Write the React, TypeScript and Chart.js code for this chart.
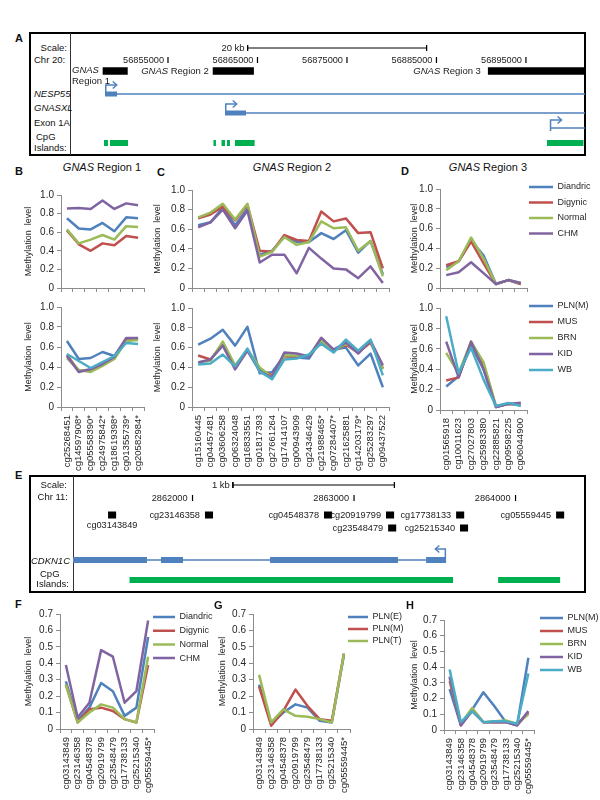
import React, { useEffect, useRef } from 'react';
import { Chart, registerables } from 'chart.js';

Chart.register(...registerables);

const FAMILY = '"Liberation Sans", Arial, Helvetica, sans-serif';
Chart.defaults.font.family = FAMILY;

/* ====================== DATA ====================== */
const GROUPS = ['Diandric', 'Digynic', 'Normal', 'CHM'];
const TISSUES = ['PLN(M)', 'MUS', 'BRN', 'KID', 'WB'];
const TRIMESTERS = ['PLN(E)', 'PLN(M)', 'PLN(T)'];

// GNAS Region 1
const B_PROBES = ['cg25268451', 'cg14597908*', 'cg05558390*', 'cg24975842*', 'cg18619398*', 'cg01355739*', 'cg20582984*'];
const B_DIANDRIC = [0.75, 0.64, 0.63, 0.70, 0.61, 0.76, 0.75];
const B_DIGYNIC = [0.62, 0.47, 0.40, 0.48, 0.46, 0.56, 0.54];
const B_NORMAL = [0.63, 0.48, 0.52, 0.57, 0.52, 0.665, 0.655];
const B_CHM = [0.855, 0.86, 0.85, 0.94, 0.85, 0.91, 0.89];
const B_PLN_M = [0.66, 0.48, 0.49, 0.55, 0.51, 0.68, 0.68];
const B_MUS = [0.52, 0.36, 0.37, 0.43, 0.50, 0.68, 0.68];
const B_BRN = [0.49, 0.37, 0.35, 0.41, 0.48, 0.66, 0.67];
const B_KID = [0.51, 0.35, 0.38, 0.43, 0.50, 0.69, 0.69];
const B_WB = [0.53, 0.46, 0.39, 0.45, 0.51, 0.64, 0.63];

// GNAS Region 2
const C_PROBES = ['cg15160445', 'cg04457481', 'cg03606258', 'cg06324048', 'cg16833551', 'cg01817393', 'cg27661264', 'cg17414107', 'cg00943909', 'cg24346429', 'cg21988465*', 'cg07284407*', 'cg21625881', 'cg14203179*', 'cg25283297', 'cg09437522'];
const C_DIANDRIC = [0.64, 0.67, 0.82, 0.64, 0.81, 0.34, 0.38, 0.52, 0.47, 0.47, 0.56, 0.50, 0.59, 0.36, 0.48, 0.14];
const C_DIGYNIC = [0.71, 0.75, 0.83, 0.69, 0.85, 0.38, 0.37, 0.54, 0.49, 0.48, 0.78, 0.68, 0.71, 0.56, 0.57, 0.20];
const C_NORMAL = [0.72, 0.77, 0.86, 0.70, 0.86, 0.32, 0.37, 0.52, 0.44, 0.47, 0.68, 0.61, 0.62, 0.38, 0.48, 0.12];
const C_CHM = [0.62, 0.67, 0.80, 0.61, 0.79, 0.26, 0.34, 0.34, 0.15, 0.41, 0.30, 0.20, 0.19, 0.10, 0.22, 0.05];
const C_PLN_M = [0.63, 0.69, 0.78, 0.62, 0.81, 0.34, 0.35, 0.52, 0.50, 0.49, 0.68, 0.58, 0.60, 0.42, 0.54, 0.20];
const C_MUS = [0.52, 0.48, 0.63, 0.40, 0.57, 0.38, 0.32, 0.51, 0.51, 0.52, 0.66, 0.57, 0.63, 0.55, 0.65, 0.39];
const C_BRN = [0.45, 0.47, 0.66, 0.42, 0.58, 0.40, 0.30, 0.52, 0.52, 0.52, 0.67, 0.57, 0.64, 0.56, 0.67, 0.38];
const C_KID = [0.45, 0.48, 0.62, 0.38, 0.57, 0.36, 0.30, 0.55, 0.54, 0.51, 0.70, 0.58, 0.65, 0.54, 0.67, 0.42];
const C_WB = [0.43, 0.44, 0.53, 0.41, 0.59, 0.36, 0.28, 0.48, 0.49, 0.53, 0.64, 0.55, 0.68, 0.57, 0.68, 0.32];

// GNAS Region 3
const D_PROBES = ['cg01565918', 'cg10011623', 'cg27027803', 'cg25983380', 'cg22885821', 'cg09598225', 'cg06044900'];
const D_DIANDRIC = [0.21, 0.27, 0.48, 0.33, 0.04, 0.08, 0.04];
const D_DIGYNIC = [0.23, 0.27, 0.47, 0.25, 0.04, 0.08, 0.04];
const D_NORMAL = [0.18, 0.27, 0.51, 0.30, 0.04, 0.08, 0.05];
const D_CHM = [0.13, 0.16, 0.26, 0.15, 0.04, 0.08, 0.05];
const D_PLN_M = [0.23, 0.33, 0.64, 0.40, 0.03, 0.06, 0.05];
const D_MUS = [0.29, 0.32, 0.66, 0.45, 0.03, 0.06, 0.06];
const D_BRN = [0.56, 0.36, 0.67, 0.47, 0.04, 0.06, 0.06];
const D_KID = [0.67, 0.32, 0.67, 0.40, 0.03, 0.06, 0.07];
const D_WB = [0.92, 0.36, 0.61, 0.30, 0.04, 0.07, 0.04];

// CDKN1C
const E_PROBES = ['cg03143849', 'cg23146358', 'cg04548378', 'cg20919799', 'cg23548479', 'cg17738133', 'cg25215340', 'cg05559445*'];
const F_DIANDRIC = [0.29, 0.05, 0.13, 0.28, 0.23, 0.08, 0.13, 0.56];
const F_DIGYNIC = [0.27, 0.04, 0.12, 0.13, 0.11, 0.06, 0.04, 0.39];
const F_NORMAL = [0.27, 0.04, 0.10, 0.15, 0.13, 0.06, 0.04, 0.44];
const F_CHM = [0.39, 0.07, 0.16, 0.48, 0.44, 0.16, 0.23, 0.66];
const G_PLN_E = [0.27, 0.03, 0.10, 0.15, 0.13, 0.05, 0.04, 0.45];
const G_PLN_M = [0.26, 0.02, 0.11, 0.24, 0.14, 0.06, 0.05, 0.46];
const G_PLN_T = [0.33, 0.04, 0.12, 0.08, 0.075, 0.06, 0.04, 0.46];
const H_PLN_M = [0.26, 0.03, 0.13, 0.24, 0.15, 0.05, 0.03, 0.46];
const H_MUS = [0.31, 0.03, 0.13, 0.05, 0.05, 0.05, 0.03, 0.11];
const H_BRN = [0.33, 0.04, 0.14, 0.05, 0.055, 0.06, 0.04, 0.10];
const H_KID = [0.34, 0.03, 0.12, 0.05, 0.05, 0.05, 0.03, 0.12];
const H_WB = [0.385, 0.05, 0.12, 0.05, 0.055, 0.055, 0.04, 0.36];

// Genome browser, chr20 (GNAS)
const A_RANGE = [56844050, 56901600];
const A_TICKS = [56855000, 56865000, 56875000, 56885000, 56895000];
const A_SCALEBAR = [56863900, 56883900];
const A_REGIONS = [[56847700, 56850500], [56860000, 56864600], [56890750, 56901600]];
const NESP55_EXON = [56847960, 56849300];
const GNASXL_EXON = [56861370, 56863720];
const EXON1A_START = 56897750;
const A_CPG = [[56847850, 56848300], [56848520, 56850530], [56860080, 56860360], [56860980, 56861370], [56861590, 56861930], [56862490, 56864680], [56897350, 56901430]];

// Genome browser, chr11 (CDKN1C)
const E_RANGE = [2861260, 2864430];
const E_TICKS = [2862000, 2863000, 2864000];
const E_SCALEBAR = [2862250, 2863250];
const E_TRACK_PROBES = ['cg03143849', 'cg23146358', 'cg04548378', 'cg20919799', 'cg23548479', 'cg17738133', 'cg25215340', 'cg05559445'];
const E_PROBE_POS = [2861477, 2862077, 2862814, 2863198, 2863211, 2863632, 2863656, 2864251];
const PROBE_LEN = 50;
const CDKN1C_EXONS = [[2861260, 2861718], [2861805, 2861941], [2862480, 2863272], [2863446, 2863570]];
const E_CPG = [[2861610, 2863613], [2863892, 2864276]];

/* ====================== STYLE ====================== */
const COLORS = ['#4F81BD', '#C0504D', '#9BBB59', '#8064A2', '#4BACC6'];
const AXIS = '#8C8C8C';
const INK = '#262626';
const GENE = '#4F81BD';
const CPG = '#00B050';
Chart.defaults.color = INK;

type LegendPos = { x: number; y: number; boxW: number; spacing: number };
type LineProps = {
  labels: string[]; names: string[]; values: number[][];
  yMax: number; yStep: number; showX: boolean;
  plotLeft: number; plotRight: number; plotTop: number; plotBottom: number;
  titleX: number; xH: number; legend?: LegendPos;
};

function LinePanel(p: LineProps) {
  const ref = useRef<HTMLCanvasElement>(null);
  const LEG_FS = 9;
  const TITLE_FS = 9;
  const canvasLeft = Math.round(p.titleX - (TITLE_FS * 1.2) / 2);
  const canvasTop = Math.round(p.plotTop - 8);
  const padTop = p.plotTop - canvasTop;
  const lp = p.legend ? p.legend.spacing - LEG_FS : 0;
  let legendW = 0;
  if (p.legend) {
    const c = document.createElement('canvas').getContext('2d')!;
    c.font = `normal ${LEG_FS}px ${FAMILY}`;
    const tw = Math.max(...p.names.map((n) => c.measureText(n).width));
    legendW = lp + p.legend.boxW + LEG_FS / 2 + tw + 10;
  }
  const padRight = p.legend ? 6 : 14;
  const width = Math.ceil(p.plotRight - canvasLeft + legendW + padRight);
  const height = Math.ceil(p.plotBottom - canvasTop + p.xH);
  const yW = p.plotLeft - canvasLeft;
  const targetRight = p.plotRight - canvasLeft;

  useEffect(() => {
    const legendPlugin = {
      id: 'legendPos',
      afterLayout(chart: any) {
        if (!p.legend || !chart.legend) return;
        const L = chart.legend;
        const w = L.width, h = L.height;
        const nx = p.legend.x - lp - canvasLeft;
        const ny = p.legend.y - LEG_FS / 2 - lp - canvasTop;
        L.left = nx; L.right = nx + w; L.top = ny; L.bottom = ny + h;
      },
    };
    const chart = new Chart(ref.current!, {
      type: 'line',
      data: {
        labels: p.labels,
        datasets: p.names.map((n, i) => ({
          label: n,
          data: p.values[i],
          borderColor: COLORS[i],
          backgroundColor: COLORS[i],
          borderWidth: 2.5,
          pointRadius: 0,
          tension: 0,
          fill: false,
          order: -i,
          borderJoinStyle: 'round' as const,
        })),
      },
      options: {
        responsive: false,
        animation: false,
        events: [],
        layout: { padding: { top: padTop, right: padRight, bottom: 0, left: 0 } },
        plugins: {
          legend: p.legend
            ? {
                display: true,
                position: 'right',
                align: 'start',
                maxWidth: 400,
                labels: {
                  usePointStyle: true,
                  pointStyle: 'line',
                  pointStyleWidth: p.legend.boxW,
                  padding: lp,
                  font: { size: LEG_FS },
                  color: INK,
                  sort: (a: any, b: any) => a.datasetIndex - b.datasetIndex,
                },
              }
            : { display: false },
          tooltip: { enabled: false },
        },
        scales: {
          x: {
            type: 'category',
            offset: true,
            grid: { display: true, drawOnChartArea: false, offset: true, tickLength: 4, color: AXIS },
            border: { display: true, color: AXIS, width: 1 },
            ticks: {
              display: p.showX, autoSkip: false, minRotation: 90, maxRotation: 90,
              font: { size: 9.5 }, color: INK, padding: 4,
            },
            afterFit: (s: any) => { s.height = p.xH; },
          },
          y: {
            type: 'linear',
            min: 0,
            max: p.yMax,
            grid: { display: true, drawOnChartArea: false, tickLength: 4, color: AXIS },
            border: { display: true, color: AXIS, width: 1 },
            ticks: { stepSize: p.yStep, font: { size: 10 }, color: INK, padding: 3 },
            title: { display: true, text: 'Methylation  level', font: { size: TITLE_FS }, color: INK, padding: { top: 0, bottom: 0 } },
            afterFit: (s: any) => { s.width = yW; },
          },
        },
      } as any,
      plugins: [legendPlugin],
    });
    for (let k = 0; k < 3; k++) {
      const diff = chart.chartArea.right - targetRight;
      if (Math.abs(diff) < 0.3) break;
      (chart.config.options as any).layout.padding.right += diff;
      chart.update();
    }
    return () => chart.destroy();
  }, []);

  return (
    <canvas
      ref={ref}
      width={width}
      height={height}
      style={{ position: 'absolute', left: canvasLeft, top: canvasTop, width, height }}
    />
  );
}

type Seg = { pts: number[][]; color: string; w: number };
type TText = { parts: { t: string; italic?: boolean }[]; x: number; y: number; align: 'left' | 'right' | 'center'; dx?: number; size?: number };

function TrackPanel(props: { left: number; top: number; width: number; height: number; range: number[]; segs: Seg[]; texts: TText[] }) {
  const ref = useRef<HTMLCanvasElement>(null);
  const { left, top, width, height, range, segs, texts } = props;
  useEffect(() => {
    const textPlugin = {
      id: 'trackText',
      afterDatasetsDraw(chart: any) {
        const ctx = chart.ctx;
        const xs = chart.scales.x, ys = chart.scales.y;
        ctx.save();
        ctx.fillStyle = '#1a1a1a';
        ctx.textBaseline = 'middle';
        ctx.textAlign = 'left';
        for (const it of texts) {
          const size = it.size || 9;
          const fontOf = (pt: any) => `${pt.italic ? 'italic ' : ''}${size}px ${FAMILY}`;
          let total = 0;
          for (const pt of it.parts) { ctx.font = fontOf(pt); total += ctx.measureText(pt.t).width; }
          let x = xs.getPixelForValue(it.x) + (it.dx || 0);
          if (it.align === 'right') x -= total;
          else if (it.align === 'center') x -= total / 2;
          const y = ys.getPixelForValue(it.y);
          for (const pt of it.parts) { ctx.font = fontOf(pt); ctx.fillText(pt.t, x, y); x += ctx.measureText(pt.t).width; }
        }
        ctx.restore();
      },
    };
    const chart = new Chart(ref.current!, {
      type: 'line',
      data: {
        datasets: segs.map((s) => ({
          data: s.pts.map(([x, y]) => ({ x, y })),
          borderColor: s.color,
          backgroundColor: s.color,
          borderWidth: s.w,
          pointRadius: 0,
          borderCapStyle: 'butt',
          borderJoinStyle: 'miter',
          tension: 0,
          fill: false,
          clip: false,
        })),
      },
      options: {
        responsive: false,
        animation: false,
        events: [],
        layout: { padding: 0 },
        plugins: { legend: { display: false }, tooltip: { enabled: false } },
        scales: {
          x: { type: 'linear', display: false, min: range[0], max: range[1] },
          y: { type: 'linear', display: false, min: top, max: top + height, reverse: true },
        },
      } as any,
      plugins: [textPlugin],
    });
    return () => chart.destroy();
  }, []);
  return <canvas ref={ref} width={width} height={height} style={{ position: 'absolute', left, top, width, height }} />;
}

function Txt(props: { x: number; y: number; children: any; align?: 'left' | 'right' | 'center'; size?: number; bold?: boolean; italic?: boolean }) {
  const { x, y, children, align = 'left', size = 9.5, bold = false, italic = false } = props;
  const st: any = {
    position: 'absolute', top: y - size * 0.6, lineHeight: `${size * 1.2}px`, fontSize: size,
    fontFamily: FAMILY, fontWeight: bold ? 'bold' : 'normal', fontStyle: italic ? 'italic' : 'normal',
    whiteSpace: 'nowrap', color: '#111',
  };
  if (align === 'left') st.left = x;
  else if (align === 'right') st.right = 600 - x;
  else { st.left = x; st.transform = 'translateX(-50%)'; }
  return <div style={st}>{children}</div>;
}

/* ====================== TRACK BUILDERS ====================== */
const A_BOX = { left: 70, top: 32, width: 515, height: 124 };
const E_BOX = { left: 73, top: 475, width: 512, height: 118 };

function buildA() {
  const bpPx = (A_RANGE[1] - A_RANGE[0]) / A_BOX.width;
  const b = (px: number) => px * bpPx;
  const K = '#000';
  const segs: Seg[] = [];
  const [s0, s1] = A_SCALEBAR;
  segs.push({ pts: [[s0, 45], [s0, 51]], color: K, w: 1 });
  segs.push({ pts: [[s0, 48], [s1, 48]], color: K, w: 1 });
  segs.push({ pts: [[s1, 45], [s1, 51]], color: K, w: 1 });
  A_TICKS.forEach((t) => segs.push({ pts: [[t, 57], [t, 63]], color: K, w: 1.2 }));
  A_REGIONS.forEach(([s, e]) => segs.push({ pts: [[s, 71], [e, 71]], color: K, w: 7.5 }));
  const gene = (exon: number[], y: number, ay: number) => {
    segs.push({ pts: [[exon[1], y], [A_RANGE[1], y]], color: GENE, w: 1.5 });
    segs.push({ pts: [[exon[0], y], [exon[1], y]], color: GENE, w: 5 });
    const x0 = exon[0] + b(0.75);
    segs.push({ pts: [[x0, y - 2], [x0, ay], [x0 + b(11), ay]], color: GENE, w: 1.5 });
    segs.push({ pts: [[x0 + b(7), ay - 3.5], [x0 + b(11), ay], [x0 + b(7), ay + 3.5]], color: GENE, w: 1.5 });
  };
  gene(NESP55_EXON, 94, 85);
  gene(GNASXL_EXON, 113, 104);
  // Exon 1A
  segs.push({ pts: [[EXON1A_START, 128], [A_RANGE[1], 128]], color: GENE, w: 1.5 });
  segs.push({ pts: [[EXON1A_START, 131], [EXON1A_START, 120], [EXON1A_START + b(11), 120]], color: GENE, w: 1.5 });
  segs.push({ pts: [[EXON1A_START + b(7), 116.5], [EXON1A_START + b(11), 120], [EXON1A_START + b(7), 123.5]], color: GENE, w: 1.5 });
  A_CPG.forEach(([s, e]) => segs.push({ pts: [[s, 143], [e, 143]], color: CPG, w: 6 }));

  const texts: TText[] = [];
  texts.push({ parts: [{ t: '20 kb' }], x: s0, y: 48, align: 'right', dx: -3, size: 9.5 });
  A_TICKS.forEach((t) => texts.push({ parts: [{ t: String(t) }], x: t, y: 60, align: 'right', dx: -4, size: 9.2 }));
  texts.push({ parts: [{ t: 'GNAS', italic: true }], x: A_RANGE[0], y: 70, align: 'left', dx: 2, size: 9.5 });
  texts.push({ parts: [{ t: 'Region 1' }], x: A_RANGE[0], y: 81, align: 'left', dx: 2, size: 9.5 });
  texts.push({ parts: [{ t: 'GNAS', italic: true }, { t: ' Region 2' }], x: A_REGIONS[1][0], y: 71, align: 'right', dx: -4, size: 9.5 });
  texts.push({ parts: [{ t: 'GNAS', italic: true }, { t: ' Region 3' }], x: A_REGIONS[2][0], y: 71, align: 'right', dx: -7, size: 9.5 });
  return { segs, texts };
}

function buildE() {
  const bpPx = (E_RANGE[1] - E_RANGE[0]) / E_BOX.width;
  const b = (px: number) => px * bpPx;
  const K = '#000';
  const segs: Seg[] = [];
  const [s0, s1] = E_SCALEBAR;
  segs.push({ pts: [[s0, 482], [s0, 488]], color: K, w: 1 });
  segs.push({ pts: [[s0, 485], [s1, 485]], color: K, w: 1 });
  segs.push({ pts: [[s1, 482], [s1, 488]], color: K, w: 1 });
  E_TICKS.forEach((t) => segs.push({ pts: [[t, 495], [t, 501]], color: K, w: 1.2 }));
  const rowOf = (name: string) => (name === 'cg23548479' || name === 'cg25215340' ? 528 : 515);
  E_TRACK_PROBES.forEach((n, i) => {
    const y = rowOf(n);
    segs.push({ pts: [[E_PROBE_POS[i], y], [E_PROBE_POS[i] + PROBE_LEN, y]], color: K, w: 7 });
  });
  const ex = CDKN1C_EXONS;
  segs.push({ pts: [[ex[0][1], 560], [ex[ex.length - 1][0], 560]], color: GENE, w: 1.5 });
  ex.forEach(([s, e]) => segs.push({ pts: [[s, 560], [e, 560]], color: GENE, w: 6 }));
  const xe = ex[ex.length - 1][1] - b(0.75);
  segs.push({ pts: [[xe, 557], [xe, 549], [xe - b(10), 549]], color: GENE, w: 1.5 });
  segs.push({ pts: [[xe - b(6), 545.5], [xe - b(10), 549], [xe - b(6), 552.5]], color: GENE, w: 1.5 });
  E_CPG.forEach(([s, e]) => segs.push({ pts: [[s, 580], [e, 580]], color: CPG, w: 6 }));

  const texts: TText[] = [];
  texts.push({ parts: [{ t: '1 kb' }], x: s0, y: 485, align: 'right', dx: -3, size: 9.5 });
  E_TICKS.forEach((t) => texts.push({ parts: [{ t: String(t) }], x: t, y: 498, align: 'right', dx: -5, size: 9.2 }));
  E_TRACK_PROBES.forEach((n, i) => {
    if (n === 'cg03143849') {
      texts.push({ parts: [{ t: n }], x: E_PROBE_POS[i] + PROBE_LEN / 2, y: 525, align: 'center', size: 9.2 });
    } else {
      texts.push({ parts: [{ t: n }], x: E_PROBE_POS[i], y: rowOf(n), align: 'right', dx: -5, size: 9.2 });
    }
  });
  return { segs, texts };
}

/* ====================== APP ====================== */
export default function App() {
  const A = buildA();
  const E = buildE();
  const Title = ({ x, n }: { x: number; n: number }) => (
    <Txt x={x} y={168} align="center" size={11}><i>GNAS</i> Region {n}</Txt>
  );
  return (
    <div style={{ position: 'fixed', left: 0, top: 0, width: 600, height: 800, background: '#fff', overflow: 'hidden', fontFamily: FAMILY }}>
      {/* Panel A */}
      <Txt x={15} y={39} bold size={11}>A</Txt>
      <div style={{ position: 'absolute', left: 29, top: 32, width: 557, height: 124, border: '2px solid #000', boxSizing: 'border-box' }} />
      <div style={{ position: 'absolute', left: 70, top: 33, width: 1, height: 122, background: '#333' }} />
      <Txt x={67} y={48} align="right">Scale:</Txt>
      <Txt x={34} y={60}>Chr 20:</Txt>
      <Txt x={34} y={94} italic>NESP55</Txt>
      <Txt x={34} y={108} italic>GNASXL</Txt>
      <Txt x={34} y={123}>Exon 1A</Txt>
      <Txt x={36} y={137}>CpG</Txt>
      <Txt x={34} y={148}>Islands:</Txt>
      <TrackPanel {...A_BOX} range={A_RANGE} segs={A.segs} texts={A.texts} />

      {/* Titles and letters B-D */}
      <Title x={102} n={1} />
      <Title x={292} n={2} />
      <Title x={488} n={3} />
      <Txt x={15} y={172} bold size={11}>B</Txt>
      <Txt x={157} y={173} bold size={11}>C</Txt>
      <Txt x={401} y={172} bold size={11}>D</Txt>

      <LinePanel labels={B_PROBES} names={GROUPS} values={[B_DIANDRIC, B_DIGYNIC, B_NORMAL, B_CHM]} yMax={1} yStep={0.2} showX={false}
        plotLeft={61} plotRight={144} plotTop={194} plotBottom={289} titleX={28} xH={8} />
      <LinePanel labels={B_PROBES} names={TISSUES} values={[B_PLN_M, B_MUS, B_BRN, B_KID, B_WB]} yMax={1} yStep={0.2} showX={true}
        plotLeft={61} plotRight={144} plotTop={306} plotBottom={407} titleX={28} xH={68} />
      <LinePanel labels={C_PROBES} names={GROUPS} values={[C_DIANDRIC, C_DIGYNIC, C_NORMAL, C_CHM]} yMax={1} yStep={0.2} showX={false}
        plotLeft={192} plotRight={389} plotTop={189} plotBottom={289} titleX={157} xH={8} />
      <LinePanel labels={C_PROBES} names={TISSUES} values={[C_PLN_M, C_MUS, C_BRN, C_KID, C_WB]} yMax={1} yStep={0.2} showX={true}
        plotLeft={192} plotRight={389} plotTop={307} plotBottom={407} titleX={157} xH={68} />
      <LinePanel labels={D_PROBES} names={GROUPS} values={[D_DIANDRIC, D_DIGYNIC, D_NORMAL, D_CHM]} yMax={1} yStep={0.2} showX={false}
        plotLeft={440} plotRight={527} plotTop={188} plotBottom={289} titleX={414} xH={8}
        legend={{ x: 529, y: 187, boxW: 24, spacing: 15.5 }} />
      <LinePanel labels={D_PROBES} names={TISSUES} values={[D_PLN_M, D_MUS, D_BRN, D_KID, D_WB]} yMax={1} yStep={0.2} showX={true}
        plotLeft={440} plotRight={527} plotTop={307} plotBottom={410} titleX={414} xH={68}
        legend={{ x: 529, y: 306, boxW: 24, spacing: 16 }} />

      {/* Panel E */}
      <Txt x={15} y={476} bold size={11}>E</Txt>
      <div style={{ position: 'absolute', left: 29, top: 475, width: 557, height: 118, border: '2px solid #000', boxSizing: 'border-box' }} />
      <div style={{ position: 'absolute', left: 73, top: 476, width: 1, height: 116, background: '#333' }} />
      <Txt x={67} y={485} align="right">Scale:</Txt>
      <Txt x={68} y={497} align="right">Chr 11:</Txt>
      <Txt x={70} y={561} align="right" italic>CDKN1C</Txt>
      <Txt x={40} y={574}>CpG</Txt>
      <Txt x={69} y={584} align="right">Islands:</Txt>
      <TrackPanel {...E_BOX} range={E_RANGE} segs={E.segs} texts={E.texts} />

      {/* Panels F-H */}
      <Txt x={15} y={605} bold size={11}>F</Txt>
      <Txt x={214} y={606} bold size={11}>G</Txt>
      <Txt x={406} y={606} bold size={11}>H</Txt>
      <LinePanel labels={E_PROBES} names={GROUPS} values={[F_DIANDRIC, F_DIGYNIC, F_NORMAL, F_CHM]} yMax={0.7} yStep={0.1} showX={true}
        plotLeft={60} plotRight={154} plotTop={613} plotBottom={729} titleX={28} xH={64}
        legend={{ x: 153, y: 617, boxW: 22, spacing: 13.7 }} />
      <LinePanel labels={E_PROBES} names={TRIMESTERS} values={[G_PLN_E, G_PLN_M, G_PLN_T]} yMax={0.7} yStep={0.1} showX={true}
        plotLeft={253} plotRight={350} plotTop={613} plotBottom={729} titleX={222} xH={64}
        legend={{ x: 348, y: 617, boxW: 20, spacing: 12 }} />
      <LinePanel labels={E_PROBES} names={TISSUES} values={[H_PLN_M, H_MUS, H_BRN, H_KID, H_WB]} yMax={0.7} yStep={0.1} showX={true}
        plotLeft={444} plotRight={534} plotTop={619} plotBottom={730} titleX={414} xH={64}
        legend={{ x: 540, y: 618, boxW: 23, spacing: 13 }} />
    </div>
  );
}
